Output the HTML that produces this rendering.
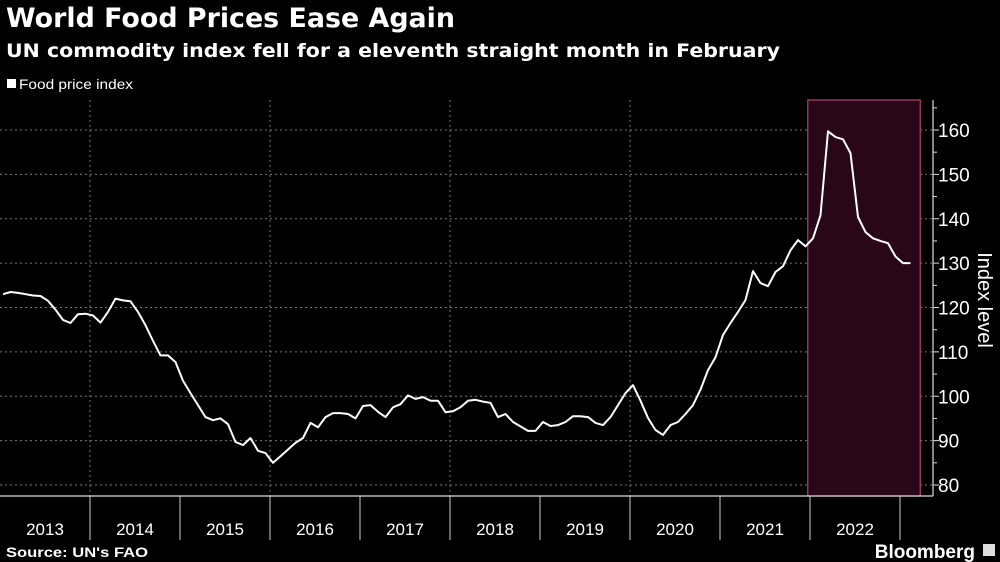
<!DOCTYPE html>
<html><head><meta charset="utf-8"><style>
html,body{margin:0;padding:0;background:#000;width:1000px;height:562px;overflow:hidden;font-family:"Liberation Sans","DejaVu Sans",sans-serif;}
</style></head><body>
<svg id="chart" width="1000" height="562" xmlns="http://www.w3.org/2000/svg">
<rect width="1000" height="562" fill="#000"/>
<text x="6" y="27" fill="#fff" font-size="27" font-weight="bold" textLength="449" lengthAdjust="spacingAndGlyphs" font-family="DejaVu Sans, sans-serif">World Food Prices Ease Again</text>
<text x="6" y="57" fill="#fff" font-size="19" font-weight="bold" textLength="774" lengthAdjust="spacingAndGlyphs" font-family="DejaVu Sans, sans-serif">UN commodity index fell for a eleventh straight month in February</text>
<g>
<rect x="7" y="79" width="9" height="9" fill="#fff"/>
<text x="19" y="89" fill="#fff" font-size="14" textLength="114" lengthAdjust="spacingAndGlyphs">Food price index</text>
</g>
<g id="grid"></g>
<g id="shade"></g>
<g id="axes"></g>
<path id="line" fill="none" stroke="#fff" stroke-width="2" stroke-linejoin="round"/>
<text transform="translate(978,300) rotate(90)" text-anchor="middle" fill="#fff" font-size="20">Index level</text>
<text x="6" y="557" fill="#fff" font-size="14" font-weight="bold" textLength="142" lengthAdjust="spacingAndGlyphs">Source: UN's FAO</text>
<text x="975" y="558" text-anchor="end" fill="#fff" font-size="19" font-weight="bold">Bloomberg</text>
<rect x="983" y="544" width="12" height="12" fill="#ddd"/>
</svg>
<script>
const years = ["2013","2014","2015","2016","2017","2018","2019","2020","2021","2022"];
const yTicks = [80,90,100,110,120,130,140,150,160];
const values = [
123,123.5,123.3,123,122.7,122.6,121.5,119.5,117.2,116.5,118.5,118.6,
118.2,116.6,119,122,121.6,121.4,119,116,112.5,109.2,109.2,107.7,
103.5,100.7,98,95.3,94.6,95,93.7,89.7,89,90.6,87.7,87.2,
85,86.5,88,89.5,90.6,94,93,95.3,96.2,96.2,96,95,
97.8,98,96.5,95.3,97.5,98.2,100.2,99.4,99.8,99,99,96.4,
96.6,97.5,99,99.2,98.8,98.5,95.3,96,94.2,93.2,92.2,92.2,
94.2,93.3,93.5,94.2,95.5,95.5,95.3,94,93.5,95.3,98,100.7,
102.5,99,95.1,92.4,91.3,93.5,94.2,96,98,101.5,105.9,108.8,
113.8,116.5,119,121.7,128.2,125.5,124.8,128,129.3,132.9,135.2,133.8,
135.6,140.8,159.7,158.4,157.9,154.8,140.4,137,135.6,135,134.5,131.5,130,130];
const shadeMonths = [107.7, 122.7];

const NS="http://www.w3.org/2000/svg";
const xM = m => m*7.5;
const xS = m => Math.max(0, 3 + m*7.5);
const yS = v => 485 - (v-80)*4.4375;
const AXR = 933, BASE = 496;
function mk(tag, attrs, parent){const e=document.createElementNS(NS,tag);for(const k in attrs)e.setAttribute(k,attrs[k]);parent.appendChild(e);return e;}
const grid=document.getElementById('grid'), axes=document.getElementById('axes'), shade=document.getElementById('shade');

yTicks.forEach(t=>{
  const l=mk('line',{x1:0,x2:AXR,y1:yS(t),y2:yS(t),stroke:'#777','stroke-width':1,'stroke-dasharray':'2,3'},grid);
  
  
  const tk=mk('line',{x1:AXR,x2:AXR+6,y1:yS(t),y2:yS(t),stroke:'#ddd','stroke-width':1},axes);
  
  
  const tx=mk('text',{x:AXR+5,y:yS(t)+7,fill:'#fff','font-size':19},axes);
  tx.textContent=t;
  
  
  const mt=mk('line',{x1:AXR,x2:AXR+4,y1:yS(t+5),y2:yS(t+5),stroke:'#ddd','stroke-width':1},axes);
  
  
});
years.forEach((y,i)=>{
  if(i%2===1){
    const g=mk('line',{x1:xM(i*12),x2:xM(i*12),y1:100,y2:BASE,stroke:'#777','stroke-width':1,'stroke-dasharray':'2,3'},grid);
    
    
  }
  const s=mk('line',{x1:xM((i+1)*12),x2:xM((i+1)*12),y1:BASE,y2:540,stroke:'#ccc','stroke-width':1},axes);
  
  
  const t=mk('text',{x:xM(i*12+6),y:535,fill:'#fff','font-size':17,'text-anchor':'middle'},axes);
  t.textContent=y;
  
  
});
const sr=mk('rect',{x:xM(shadeMonths[0]),y:100,width:xM(shadeMonths[1])-xM(shadeMonths[0]),height:BASE-100,fill:'#2a0718',stroke:'#b0406e','stroke-width':1.2},shade);


const ax=mk('line',{x1:AXR,x2:AXR,y1:100,y2:BASE,stroke:'#ddd','stroke-width':1.2},axes);


const bx=mk('line',{x1:0,x2:AXR,y1:BASE,y2:BASE,stroke:'#ddd','stroke-width':1.2},axes);


document.getElementById('line').setAttribute('d',values.map((v,i)=>(i?'L':'M')+xS(i).toFixed(1)+','+yS(v).toFixed(1)).join(''));
</script>
</body></html>
